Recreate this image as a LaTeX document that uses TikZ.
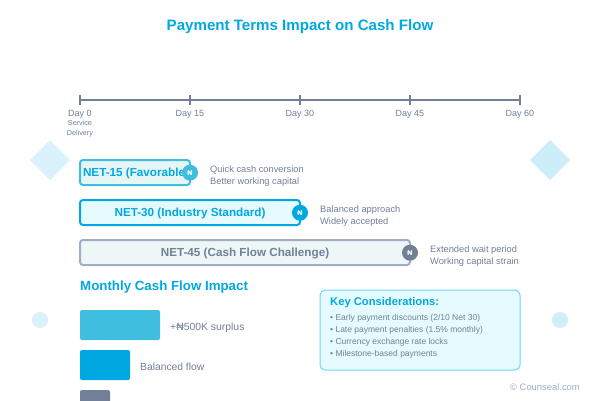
\documentclass[tikz,border=0pt]{standalone}
\usepackage{fontspec}
\setmainfont{Liberation Sans}
\definecolor{cblue}{HTML}{00A8E1}
\definecolor{clight}{HTML}{40BEE0}
\definecolor{cgray}{HTML}{718096}
\definecolor{cgrayb}{HTML}{A0AEC0}
\definecolor{ctext}{HTML}{718096}
\definecolor{fa}{HTML}{E6F6F6}
\definecolor{fb}{HTML}{E6FBFF}
\definecolor{fc}{HTML}{EDF7F7}
\definecolor{kb}{HTML}{70D6F5}
\newcommand{\fs}[1]{\fontsize{#1}{#1}\selectfont}
\tikzset{
 lbl/.style={inner sep=0pt,anchor=base,text=ctext,font=\fs{9}},
 lbll/.style={inner sep=0pt,anchor=base west,text=ctext,font=\fs{9.3}},
 term/.style={draw,line width=2pt,rounded corners=3pt,minimum height=25pt,inner sep=0pt,outer sep=0pt,anchor=north west},
 termtxt/.style={inner sep=0pt,anchor=base,font=\bfseries\fs{11.7}},
 badge/.style={circle,minimum size=16pt,inner sep=0pt,text=white,font=\bfseries\fs{7}},
 bar/.style={rounded corners=2pt,minimum height=30pt,inner sep=0pt,outer sep=0pt,anchor=north west},
 tick/.style={line width=2pt,draw=cgray},
 item/.style={inner sep=0pt,anchor=base west,text=ctext,font=\fs{8.5}},
}
\begin{document}
\begin{tikzpicture}[x=1pt,y=-1pt]
\useasboundingbox (0,0) rectangle (600,400);
\clip (0,0) rectangle (600,400);
\node[inner sep=0pt,anchor=base,text=cblue,font=\bfseries\fs{15.1}] (title) at (300,30) {Payment Terms Impact on Cash Flow};
% decorative
\fill[fill=cblue,opacity=.15] (50,140) -- (70,160) -- (50,180) -- (30,160) -- cycle;
\fill[fill=cblue,opacity=.2] (550,140) -- (570,160) -- (550,180) -- (530,160) -- cycle;
\fill[fill=cblue,opacity=.15] (40,320) circle (8);
\fill[fill=cblue,opacity=.2] (560,320) circle (8);
% timeline
\coordinate (t0) at (80,100);
\coordinate (t1) at (190,100);
\coordinate (t2) at (300,100);
\coordinate (t3) at (410,100);
\coordinate (t4) at (520,100);
\draw[tick] (t0) -- (t4);
\foreach \p in {t0,t1,t2,t3,t4} \draw[tick] ([yshift=-5pt]\p) -- ([yshift=5pt]\p);
\node[lbl] (d0) at (80,116) {Day 0};
\node[lbl] (d1) at (190,116) {Day 15};
\node[lbl] (d2) at (300,116) {Day 30};
\node[lbl] (d3) at (410,116) {Day 45};
\node[lbl] (d4) at (520,116) {Day 60};
\node[lbl,font=\fs{7.2}] (s1) at (80,125) {Service};
\node[lbl,font=\fs{7.2}] (s2) at (80,135) {Delivery};
% terms
\node[term,draw=clight,fill=fa,minimum width=110pt] (n15) at (80,160) {};
\node[termtxt,text=cblue] (n15t) at (136,176.5) {NET-15 (Favorable)};
\node[badge,fill=clight] (b15) at (190,172.7) {₦};
\node[lbll] (a1) at (210,172.3) {Quick cash conversion};
\node[lbll] (a2) at (210,184.3) {Better working capital};
\node[term,draw=cblue,fill=fb,minimum width=220pt] (n30) at (80,200) {};
\node[termtxt,text=cblue] (n30t) at (190,216.5) {NET-30 (Industry Standard)};
\node[badge,fill=cblue] (b30) at (300,212.7) {₦};
\node[lbll] (b1) at (320,212.3) {Balanced approach};
\node[lbll] (b2) at (320,224.3) {Widely accepted};
\node[term,draw=cgrayb,fill=fc,minimum width=330pt] (n45) at (80,240) {};
\node[termtxt,text=cgray] (n45t) at (245,256.5) {NET-45 (Cash Flow Challenge)};
\node[badge,fill=cgray] (b45) at (410,252.7) {₦};
\node[lbll] (c1) at (430,252.3) {Extended wait period};
\node[lbll] (c2) at (430,264.3) {Working capital strain};
% monthly
\node[inner sep=0pt,anchor=base west,text=cblue,font=\bfseries\fs{13.3}] (m) at (80,290) {Monthly Cash Flow Impact};
\node[bar,fill=clight,minimum width=80pt] (m1) at (80,310) {};
\node[lbll,font=\fs{10.4}] (m1t) at (170,330.5) {+₦500K surplus};
\node[bar,fill=cblue,minimum width=50pt] (m2) at (80,350) {};
\node[lbll,font=\fs{10.3}] (m2t) at (140,370) {Balanced flow};
\node[bar,fill=cgray,minimum width=30pt] (m3) at (80,390) {};
% key
\node[draw=kb,line width=1pt,fill=fb,rounded corners=5pt,minimum width=200pt,minimum height=80pt,inner sep=0pt,outer sep=0pt,anchor=north west] (k) at (320,290) {};
\node[inner sep=0pt,anchor=base west,text=cblue,font=\bfseries\fs{11.2}] (kt) at (330,305) {Key Considerations:};
\node[item] (k1) at (330,320) {• Early payment discounts (2/10 Net 30)};
\node[item] (k2) at (330,332) {• Late payment penalties (1.5\% monthly)};
\node[item] (k3) at (330,344) {• Currency exchange rate locks};
\node[item] (k4) at (330,356) {• Milestone-based payments};
\node[inner sep=0pt,anchor=base east,text=cgrayb,font=\fs{9.4}] (c) at (580,390) {© Counseal.com};
\end{tikzpicture}
\end{document}
